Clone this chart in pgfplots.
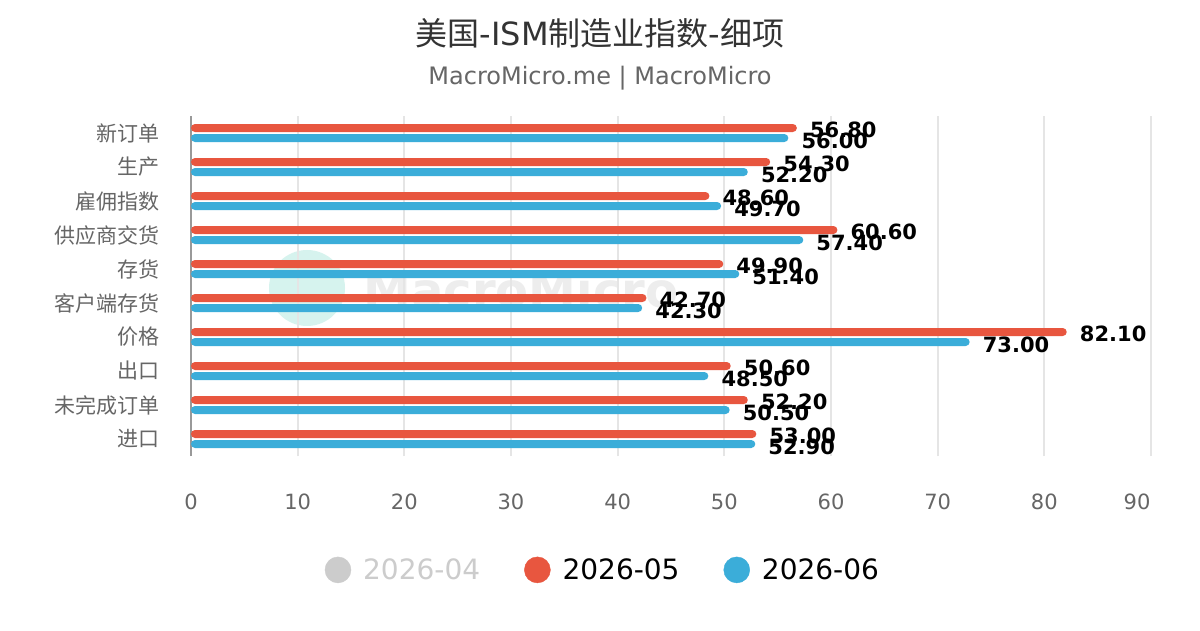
\documentclass[border=0pt]{standalone}
\usepackage{fontspec}
\setmainfont{DejaVu Sans}
\newfontfamily\cjk{Noto Sans CJK SC}
\usepackage{pgfplots}
\usepackage{pgfplotstable}
\pgfplotsset{compat=1.18}
\pgfkeys{/pgf/number format/assume math mode=true}
\definecolor{cred}{HTML}{E8563F}
\definecolor{cblue}{HTML}{3BADD9}
\definecolor{cgray}{HTML}{CCCCCC}
\definecolor{ctick}{HTML}{666666}
\definecolor{ctitle}{HTML}{333333}
\definecolor{cmint}{HTML}{D6F3EE}
% pos: 9 = top category (新订单), 0 = bottom (进口)
\pgfplotstableread{
pos red blue
9 56.8 56.0
8 54.3 52.2
7 48.6 49.7
6 60.6 57.4
5 49.9 51.4
4 42.7 42.3
3 82.1 73.0
2 50.6 48.5
1 52.2 50.5
0 53.0 52.9
}\datatable
\begin{document}
\begin{tikzpicture}
\fill[white] (0pt,0pt) rectangle (1200pt,630pt);
% title
\node[text=ctitle, font=\fontsize{32}{32}\selectfont] at (600pt,597pt) {{\cjk 美国}-ISM{\cjk 制造业指数}-{\cjk 细项}};
\node[text=ctick, font=\fontsize{24}{24}\selectfont] at (600pt,552pt) {MacroMicro.me | MacroMicro};
% watermark
\fill[cmint] (307pt,342pt) circle (38pt);
\node[text=black!7, font=\bfseries\fontsize{48}{48}\selectfont, anchor=west] at (360pt,340pt) {MacroMicro};
\begin{axis}[
  at={(191pt,174pt)}, anchor=south west,
  scale only axis, width=960pt, height=340pt,
  xmin=0, xmax=90, ymin=-0.5, ymax=9.5,
  clip=false,
  axis lines*=left,
  x axis line style={draw=none},
  y axis line style={draw=black!40, line width=2pt},
  xtick={0,10,...,90},
  xticklabels={0,10,20,30,40,50,60,70,80,\hspace*{-28pt}90},
  ytick={0,...,9},
  yticklabels={进口,未完成订单,出口,价格,客户端存货,存货,供应商交货,雇佣指数,生产,新订单},
  major tick length=0pt,
  xmajorgrids,
  grid style={draw=black!10, line width=2pt},
  xticklabel style={font=\fontsize{21}{21}\selectfont, text=ctick, anchor=north, inner sep=0pt, yshift=-38pt},
  yticklabel style={font=\cjk\fontsize{21}{21}\selectfont, text=ctick, anchor=east, inner sep=0pt, xshift=-31pt},
  /pgf/number format/assume math mode=true,
  legend style={at={(0.428,-0.335)}, anchor=center, draw=none, fill=none,
    legend columns=3, font=\fontsize{28}{28}\selectfont,
    nodes={inner sep=0pt},
    /tikz/every odd column/.append style={column sep=12pt},
    /tikz/every even column/.append style={column sep=44pt}},
  legend cell align=left,
]
\addlegendimage{legend image code/.code={\fill[cgray] (13pt,0pt) circle (13pt);}}
\addlegendentry{\textcolor{cgray}{2026-04}}
\addlegendimage{legend image code/.code={\fill[cred] (13pt,0pt) circle (13pt);}}
\addlegendentry{2026-05}
\addlegendimage{legend image code/.code={\fill[cblue] (13pt,0pt) circle (13pt);}}
\addlegendentry{2026-06}
\addplot[xbar, bar width=8pt, bar shift=5pt, fill=cred, draw=none, rounded corners=4pt, forget plot,
  nodes near coords={\pgfmathprintnumber[fixed,zerofill,precision=2,assume math mode=true]{\pgfplotspointmeta}},
  nodes near coords style={anchor=west, inner sep=0pt, xshift=13pt, yshift=3pt, text=black, font=\bfseries\fontsize{21}{21}\selectfont, rounded corners=0pt}]
  table[x=red, y=pos] {\datatable};
\addplot[xbar, bar width=8pt, bar shift=-5pt, fill=cblue, draw=none, rounded corners=4pt, forget plot,
  nodes near coords={\pgfmathprintnumber[fixed,zerofill,precision=2,assume math mode=true]{\pgfplotspointmeta}},
  nodes near coords style={anchor=west, inner sep=0pt, xshift=13pt, yshift=-7.5pt, text=black, font=\bfseries\fontsize{21}{21}\selectfont, rounded corners=0pt}]
  table[x=blue, y=pos] {\datatable};
\end{axis}
\end{tikzpicture}
\end{document}
